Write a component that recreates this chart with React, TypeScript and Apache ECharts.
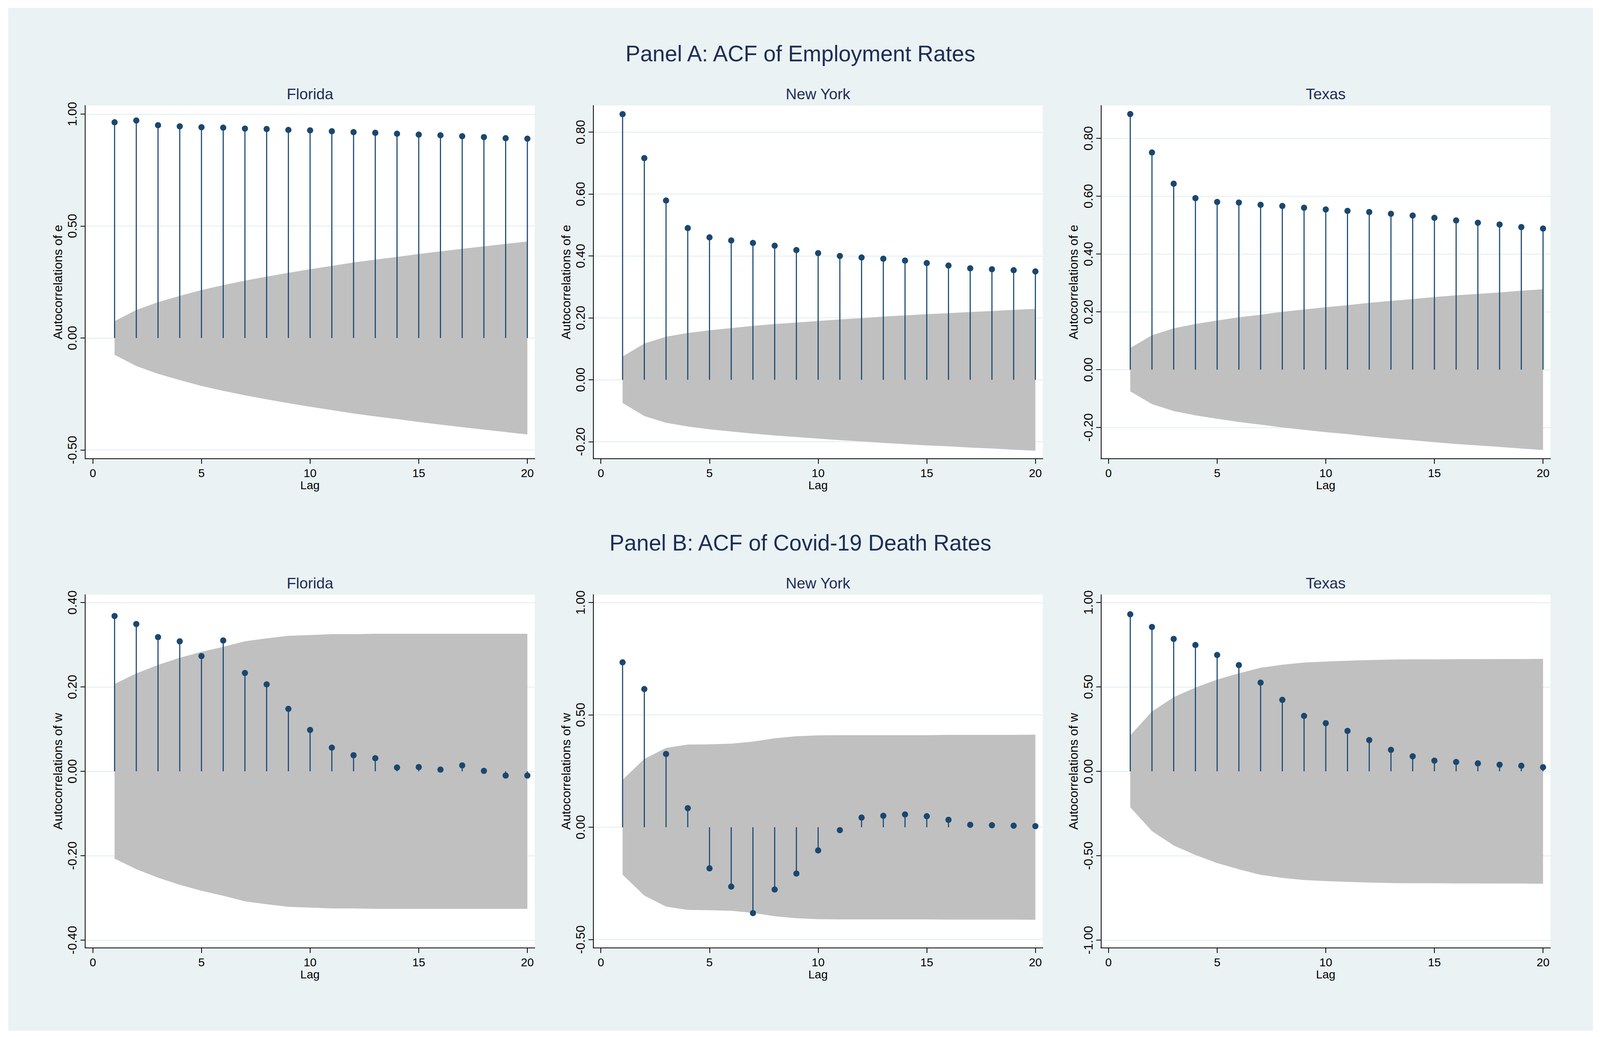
import React, { useEffect, useRef } from "react";
import * as echarts from "echarts";

// ---------- data ----------
const lags = [1, 2, 3, 4, 5, 6, 7, 8, 9, 10, 11, 12, 13, 14, 15, 16, 17, 18, 19, 20];
const xTicks = [0, 5, 10, 15, 20];

const panelTitles = ["Panel A: ACF of Employment Rates", "Panel B: ACF of Covid-19 Death Rates"];
const states = ["Florida", "New York", "Texas"];
const yNames = ["Autocorrelations of e", "Autocorrelations of w"];
const xName = "Lag";

// Panel A: employment rates
const acfEmpFL = [0.963, 0.971, 0.950, 0.945, 0.941, 0.939, 0.935, 0.933, 0.929, 0.927, 0.923, 0.919, 0.916, 0.912, 0.908, 0.905, 0.901, 0.897, 0.892, 0.890];
const bandEmpFL = [0.075, 0.125, 0.160, 0.188, 0.214, 0.236, 0.256, 0.274, 0.291, 0.307, 0.322, 0.337, 0.350, 0.362, 0.375, 0.387, 0.398, 0.409, 0.420, 0.431];
const acfEmpNY = [0.858, 0.716, 0.579, 0.490, 0.460, 0.450, 0.442, 0.433, 0.419, 0.409, 0.400, 0.395, 0.391, 0.385, 0.377, 0.369, 0.360, 0.357, 0.354, 0.350];
const bandEmpNY = [0.075, 0.117, 0.139, 0.151, 0.160, 0.167, 0.174, 0.180, 0.185, 0.190, 0.195, 0.199, 0.204, 0.208, 0.212, 0.215, 0.219, 0.222, 0.226, 0.229];
const acfEmpTX = [0.884, 0.751, 0.643, 0.593, 0.580, 0.578, 0.570, 0.566, 0.560, 0.554, 0.549, 0.545, 0.539, 0.533, 0.525, 0.516, 0.508, 0.502, 0.493, 0.488];
const bandEmpTX = [0.075, 0.119, 0.143, 0.158, 0.170, 0.181, 0.190, 0.200, 0.208, 0.216, 0.223, 0.231, 0.238, 0.244, 0.251, 0.257, 0.262, 0.267, 0.273, 0.278];

// Panel B: Covid-19 death rates
const acfDeathFL = [0.368, 0.349, 0.318, 0.308, 0.273, 0.310, 0.233, 0.206, 0.148, 0.098, 0.056, 0.038, 0.031, 0.009, 0.010, 0.004, 0.014, 0.001, -0.010, -0.010];
const bandDeathFL = [0.207, 0.232, 0.252, 0.269, 0.283, 0.295, 0.308, 0.315, 0.321, 0.323, 0.325, 0.325, 0.326, 0.326, 0.326, 0.326, 0.326, 0.326, 0.326, 0.326];
const acfDeathNY = [0.734, 0.615, 0.326, 0.085, -0.183, -0.264, -0.382, -0.277, -0.206, -0.103, -0.013, 0.043, 0.051, 0.057, 0.049, 0.033, 0.011, 0.009, 0.007, 0.005];
const bandDeathNY = [0.211, 0.304, 0.353, 0.368, 0.369, 0.372, 0.381, 0.396, 0.405, 0.409, 0.410, 0.410, 0.410, 0.410, 0.410, 0.411, 0.411, 0.411, 0.411, 0.412];
const acfDeathTX = [0.930, 0.855, 0.784, 0.748, 0.689, 0.629, 0.525, 0.423, 0.328, 0.285, 0.239, 0.185, 0.127, 0.089, 0.063, 0.055, 0.047, 0.039, 0.033, 0.024];
const bandDeathTX = [0.213, 0.354, 0.439, 0.496, 0.543, 0.580, 0.613, 0.631, 0.644, 0.650, 0.655, 0.659, 0.662, 0.663, 0.663, 0.664, 0.664, 0.665, 0.665, 0.666];

// y tick labels
const yTicksEmpFL = [-0.5, 0, 0.5, 1.0];
const yTicksEmpNY = [-0.2, 0, 0.2, 0.4, 0.6, 0.8];
const yTicksEmpTX = [-0.2, 0, 0.2, 0.4, 0.6, 0.8];
const yTicksDeathFL = [-0.4, -0.2, 0, 0.2, 0.4];
const yTicksDeathNY = [-0.5, 0, 0.5, 1.0];
const yTicksDeathTX = [-1.0, -0.5, 0, 0.5, 1.0];

// axis ranges (plot region extents)
const yRangeEmpFL = [-0.539, 1.038];
const yRangeEmpNY = [-0.255, 0.886];
const yRangeEmpTX = [-0.308, 0.9135];
const yRangeDeathFL = [-0.4185, 0.4185];
const yRangeDeathNY = [-0.537, 1.035];
const yRangeDeathTX = [-1.046, 1.046];
const xRange = [-0.35, 20.34];

// ---------- layout / style (reference page coordinates) ----------
const FONT = '"Liberation Sans", Arial, Helvetica, sans-serif';
const NAVY = "#1a476f";
const TITLE = "#1e2d55";
const BG = "#eaf2f3";
const BAND = "#c0c0c0";

const REF_W = 4403;
const REF_H = 2654;
const BG_X0 = 23;
const BG_Y0 = 20;
const BG_X1 = 4384;
const BG_Y1 = 2638;
const GRID_W = 1237;
const GRID_H = 904;
const colLeft = [235, 1633, 3030];
const rowTop = [270, 1522];
const panelTitleY = [137, 1389];
const panelTitleX = 2203;

export default function App() {
  const ref = useRef<HTMLDivElement>(null);
  const W = typeof window !== "undefined" ? window.innerWidth : REF_W;
  const H = typeof window !== "undefined" ? window.innerHeight : REF_H;
  const sx = W / REF_W;
  const sy = H / REF_H;

  useEffect(() => {
    if (!ref.current) return;
    const chart = echarts.init(ref.current, null, { renderer: "svg" });
    const fsk = Math.min(sx, sy);
    const X = (v: number) => v * sx - BG_X0 * sx;
    const Y = (v: number) => v * sy - BG_Y0 * sy;
    const F = (v: number) => v * fsk;
    const FV = (v: number) => v * sy; // rotated (vertical) texts run along y

    const panels = [
      { row: 0, col: 0, vals: acfEmpFL, band: bandEmpFL, ticks: yTicksEmpFL, range: yRangeEmpFL },
      { row: 0, col: 1, vals: acfEmpNY, band: bandEmpNY, ticks: yTicksEmpNY, range: yRangeEmpNY },
      { row: 0, col: 2, vals: acfEmpTX, band: bandEmpTX, ticks: yTicksEmpTX, range: yRangeEmpTX },
      { row: 1, col: 0, vals: acfDeathFL, band: bandDeathFL, ticks: yTicksDeathFL, range: yRangeDeathFL },
      { row: 1, col: 1, vals: acfDeathNY, band: bandDeathNY, ticks: yTicksDeathNY, range: yRangeDeathNY },
      { row: 1, col: 2, vals: acfDeathTX, band: bandDeathTX, ticks: yTicksDeathTX, range: yRangeDeathTX },
    ];

    const grid: any[] = [];
    const xAxis: any[] = [];
    const yAxis: any[] = [];
    const series: any[] = [];
    const graphics: any[] = [];

    panelTitles.forEach((t, r) => {
      graphics.push({
        type: "text",
        x: X(panelTitleX),
        y: Y(panelTitleY[r]),
        style: {
          text: t,
          fontSize: F(61),
          fontFamily: FONT,
          fill: TITLE,
          align: "center",
          verticalAlign: "middle",
          textAlign: "center",
          textVerticalAlign: "middle",
        },
      });
    });

    panels.forEach((p, i) => {
      const left = X(colLeft[p.col]);
      const top = Y(rowTop[p.row]);
      const gw = GRID_W * sx;
      const gh = GRID_H * sy;
      grid.push({
        left,
        top,
        width: gw,
        height: gh,
        show: true,
        backgroundColor: "#ffffff",
        borderWidth: 0,
      });
      graphics.push({
        type: "text",
        x: left + gw / 2,
        y: top - 30 * sy,
        style: {
          text: states[p.col],
          fontSize: F(42),
          fontFamily: FONT,
          fill: TITLE,
          align: "center",
          verticalAlign: "middle",
          textAlign: "center",
          textVerticalAlign: "middle",
        },
      });
      xAxis.push({
        type: "value",
        gridIndex: i,
        min: xRange[0],
        max: xRange[1],
        name: xName,
        nameLocation: "middle",
        nameGap: 52 * sy,
        nameTextStyle: { fontSize: F(32), fontFamily: FONT, color: "#000" },
        axisLine: { show: true, onZero: false, lineStyle: { color: "#000", width: 2 } },
        axisTick: { show: true, customValues: xTicks, length: 13 * sy, lineStyle: { color: "#000", width: 2 } },
        axisLabel: {
          customValues: xTicks,
          fontSize: F(32),
          fontFamily: FONT,
          color: "#000",
          margin: 21 * sy,
          formatter: (v: number) => String(v),
        },
        splitLine: { show: false },
      });
      yAxis.push({
        type: "value",
        gridIndex: i,
        min: p.range[0],
        max: p.range[1],
        name: yNames[p.row],
        nameLocation: "middle",
        nameGap: 58 * sx,
        nameTextStyle: { fontSize: FV(32), fontFamily: FONT, color: "#000" },
        axisLine: { show: true, onZero: false, lineStyle: { color: "#000", width: 2 } },
        axisTick: { show: true, customValues: p.ticks, length: 13 * sx, lineStyle: { color: "#000", width: 2 } },
        axisLabel: {
          customValues: p.ticks,
          rotate: 90,
          fontSize: FV(32),
          fontFamily: FONT,
          color: "#000",
          margin: 18 * sx,
          formatter: (v: number) => v.toFixed(2),
        },
        splitLine: { show: true, lineStyle: { color: BG, width: 3 } },
      });

      const band = p.band;
      series.push({
        type: "custom",
        xAxisIndex: i,
        yAxisIndex: i,
        silent: true,
        z: 1,
        data: lags.map((l, k) => [l, band[k]]),
        renderItem: (params: any, api: any) => {
          if (params.dataIndex !== 0) return null;
          const upper = lags.map((l, k) => api.coord([l, band[k]]));
          const lower = lags.map((l, k) => api.coord([l, -band[k]])).reverse();
          return {
            type: "polygon",
            shape: { points: upper.concat(lower) },
            style: { fill: BAND, stroke: null },
          };
        },
      });
      series.push({
        type: "bar",
        xAxisIndex: i,
        yAxisIndex: i,
        data: lags.map((l, k) => [l, p.vals[k]]),
        barWidth: Math.max(2, 3 * sx),
        itemStyle: { color: NAVY },
        silent: true,
        z: 3,
      });
      series.push({
        type: "scatter",
        xAxisIndex: i,
        yAxisIndex: i,
        data: lags.map((l, k) => [l, p.vals[k]]),
        symbol: "circle",
        symbolSize: 17 * fsk,
        itemStyle: { color: NAVY, opacity: 1 },
        silent: true,
        z: 4,
      });
    });

    chart.setOption({
      animation: false,
      backgroundColor: BG,
      textStyle: { fontFamily: FONT },
      grid,
      xAxis,
      yAxis,
      series,
      graphic: graphics,
    });

    return () => chart.dispose();
  }, []);

  return (
    <div
      ref={ref}
      style={{
        position: "fixed",
        left: BG_X0 * sx,
        top: BG_Y0 * sy,
        width: (BG_X1 - BG_X0) * sx,
        height: (BG_Y1 - BG_Y0) * sy,
      }}
    />
  );
}
